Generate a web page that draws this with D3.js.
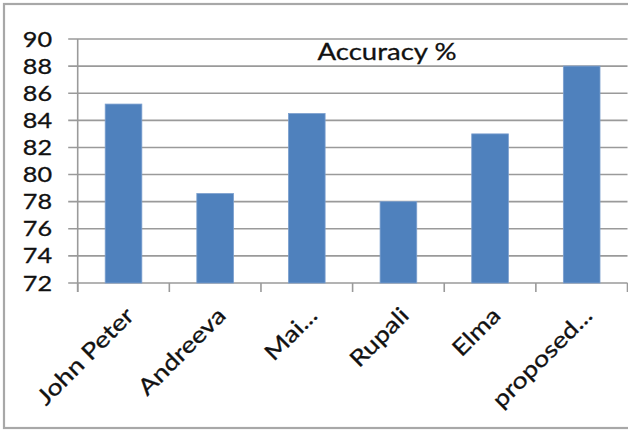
<!DOCTYPE html>
<html><head><meta charset="utf-8">
<script src="https://cdn.jsdelivr.net/npm/d3@7"></script>
<style>html,body{margin:0;padding:0;background:#fff;}svg{display:block;}</style>
</head><body>
<script>
const categories = ["John Peter", "Andreeva", "Mai...", "Rupali", "Elma", "proposed..."];
const accuracy = [85.2, 78.6, 84.5, 78.0, 83.0, 88.0];
const yTicks = [72, 74, 76, 78, 80, 82, 84, 86, 88, 90];
const title = "Accuracy %";

const W = 628, H = 430;
const svg = d3.select("body").append("svg").attr("width", W).attr("height", H);
const font = "Lato, 'Open Sans', sans-serif";

svg.append("rect").attr("x", 4).attr("y", 4).attr("width", 660).attr("height", 424)
  .attr("fill", "#fff").attr("stroke", "#a8a8a8").attr("stroke-width", 2.2);

const m = {left: 77.7, right: 627.5, top: 39, bottom: 283};
const x = d3.scaleBand().domain(categories).range([m.left, m.right]).paddingInner(0.6).paddingOuter(0.3);
const xb = d3.scaleBand().domain(categories).range([m.left, m.right]).padding(0);
const y = d3.scaleLinear().domain([72, 90]).range([m.bottom, m.top]);

const grid = "#9a9a9a";
svg.append("g").selectAll("line").data(yTicks).join("line")
  .attr("x1", m.left - 9.5).attr("x2", m.right)
  .attr("y1", d => y(d)).attr("y2", d => y(d))
  .attr("stroke", grid).attr("stroke-width", 1.6);

svg.append("g").selectAll("rect").data(categories).join("rect")
  .attr("x", d => x(d)).attr("width", x.bandwidth())
  .attr("y", (d, i) => y(accuracy[i])).attr("height", (d, i) => y(72) - y(accuracy[i]))
  .attr("fill", "#4f81bd").attr("stroke", "#7b9fce").attr("stroke-width", 0.8);

svg.append("line").attr("x1", m.left).attr("x2", m.left).attr("y1", m.top).attr("y2", m.bottom + 9)
  .attr("stroke", grid).attr("stroke-width", 1.6);
const bounds = categories.map(c => xb(c)).concat([xb(categories[categories.length-1]) + xb.bandwidth()]);
svg.append("g").selectAll("line").data(bounds).join("line")
  .attr("x1", d => d).attr("x2", d => d).attr("y1", m.bottom).attr("y2", m.bottom + 9)
  .attr("stroke", grid).attr("stroke-width", 1.6);

const txt = sel => sel.attr("font-family", font).attr("fill", "#111")
  .attr("stroke", "#111").attr("stroke-width", 0.3);

svg.append("g").selectAll("text").data(yTicks).join("text")
  .attr("transform", d => `translate(52,${y(d)}) scale(1.2,1)`).attr("dy", "0.36em")
  .attr("text-anchor", "end").attr("font-size", 21).call(txt).text(d => d);

svg.append("g").selectAll("text").data(categories).join("text")
  .attr("transform", d => `translate(${xb(d) + xb.bandwidth()/2 + 12},${m.bottom + 34}) rotate(-45) scale(1.2,1)`)
  .attr("text-anchor", "end").attr("font-size", 22.5).attr("letter-spacing", d => d.endsWith("...") ? null : null)
  .call(txt).text(d => d);

svg.append("text").attr("x", 387).attr("y", 59.5).attr("text-anchor", "middle")
  .attr("textLength", 139).attr("lengthAdjust", "spacingAndGlyphs")
  .attr("font-size", 23).call(txt).text(title);
</script>
</body></html>
